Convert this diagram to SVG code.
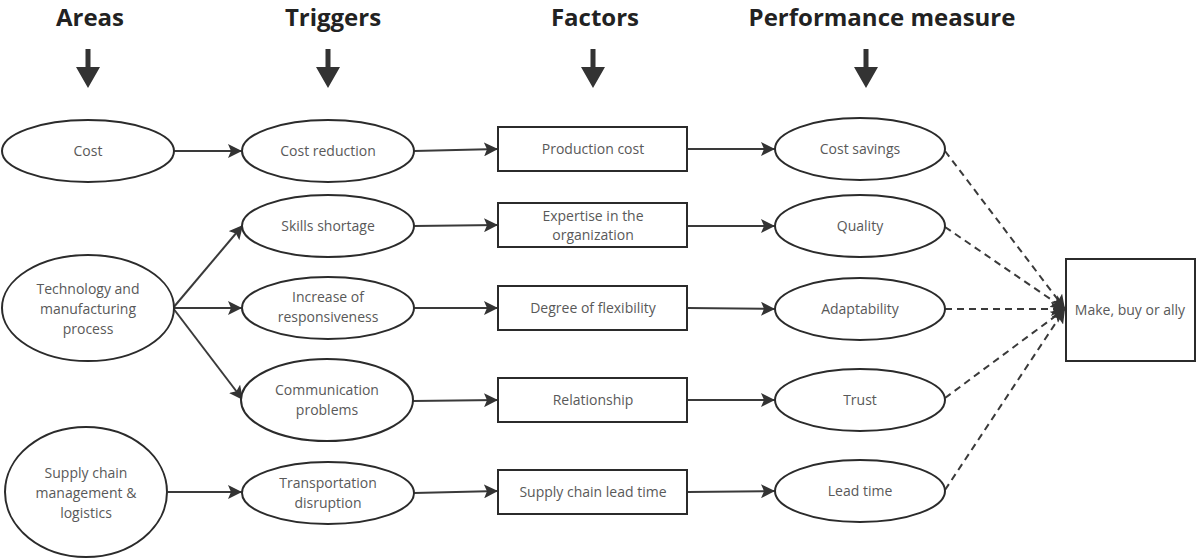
<svg xmlns="http://www.w3.org/2000/svg" width="1197" height="560" viewBox="0 0 1197 560">
  <style>
    .hdr { font-family: "Open Sans", "Liberation Sans", sans-serif; font-weight: 700; font-size: 24px; fill: #222; text-anchor: middle; }
    .node ellipse, .node rect { fill: #fff; stroke: #2b2b2b; stroke-width: 2; }
    .lbl { font-family: "Open Sans", "Liberation Sans", sans-serif; font-size: 14px; fill: #595959; text-anchor: middle; }
    .link { fill: none; stroke: #3a3a3a; stroke-width: 2; marker-end: url(#head); }
    .dash { fill: none; stroke: #3a3a3a; stroke-width: 2; stroke-dasharray: 7 5; marker-end: url(#head); }
    .down { fill: #333; }
  </style>
  <defs>
    <marker id="head" markerUnits="userSpaceOnUse" markerWidth="16" markerHeight="14" refX="14" refY="7" orient="auto">
      <path d="M0,0 L14,7 L0,14 L3,7 z" fill="#333"/>
    </marker>
    <path id="downArrow" d="M-2.5,0 H2.5 V18 H12 L0,39 L-12,18 H-2.5 z"/>
  </defs>

  <!-- column headings -->
  <g id="headings">
    <text class="hdr" x="90" y="26">Areas</text>
    <text class="hdr" x="333" y="26">Triggers</text>
    <text class="hdr" x="595" y="26">Factors</text>
    <text class="hdr" x="882" y="26">Performance measure</text>
    <use href="#downArrow" class="down" x="88" y="49"/>
    <use href="#downArrow" class="down" x="328" y="49"/>
    <use href="#downArrow" class="down" x="593" y="49"/>
    <use href="#downArrow" class="down" x="866" y="49"/>
  </g>

  <!-- connectors -->
  <g id="connectors">
    <line class="link" x1="174" y1="151" x2="242" y2="151"/>
    <line class="link" x1="173" y1="308" x2="243" y2="225"/>
    <line class="link" x1="174" y1="308" x2="242" y2="308"/>
    <line class="link" x1="173" y1="308" x2="243" y2="400"/>
    <line class="link" x1="168" y1="492" x2="242" y2="492"/>

    <line class="link" x1="414" y1="151" x2="498" y2="149"/>
    <line class="link" x1="414" y1="226" x2="498" y2="225"/>
    <line class="link" x1="414" y1="308" x2="498" y2="308"/>
    <line class="link" x1="413" y1="401" x2="498" y2="400"/>
    <line class="link" x1="414" y1="493" x2="498" y2="491"/>

    <line class="link" x1="688" y1="149" x2="775" y2="149"/>
    <line class="link" x1="688" y1="226" x2="775" y2="226"/>
    <line class="link" x1="688" y1="308" x2="775" y2="309"/>
    <line class="link" x1="688" y1="400" x2="775" y2="400"/>
    <line class="link" x1="688" y1="492" x2="775" y2="491"/>

    <line class="dash" x1="945" y1="151" x2="1065" y2="309"/>
    <line class="dash" x1="945" y1="227" x2="1065" y2="309"/>
    <line class="dash" x1="945" y1="309" x2="1065" y2="309"/>
    <line class="dash" x1="945" y1="398" x2="1065" y2="309"/>
    <line class="dash" x1="945" y1="490" x2="1065" y2="309"/>
  </g>

  <!-- areas -->
  <g id="area-cost" class="node">
    <ellipse cx="88" cy="151" rx="86" ry="31"/>
    <text class="lbl" x="88" y="156">Cost</text>
  </g>
  <g id="area-technology" class="node">
    <ellipse cx="88" cy="308" rx="86" ry="53"/>
    <text class="lbl" x="88" y="294">Technology and</text>
    <text class="lbl" x="88" y="314">manufacturing</text>
    <text class="lbl" x="88" y="334">process</text>
  </g>
  <g id="area-supply" class="node">
    <ellipse cx="86" cy="492" rx="81" ry="65"/>
    <text class="lbl" x="86" y="478">Supply chain</text>
    <text class="lbl" x="86" y="498">management &amp;</text>
    <text class="lbl" x="86" y="518">logistics</text>
  </g>

  <!-- triggers -->
  <g id="trigger-cost-reduction" class="node">
    <ellipse cx="328" cy="151" rx="86" ry="31"/>
    <text class="lbl" x="328" y="156">Cost reduction</text>
  </g>
  <g id="trigger-skills" class="node">
    <ellipse cx="328" cy="226" rx="86" ry="31"/>
    <text class="lbl" x="328" y="231">Skills shortage</text>
  </g>
  <g id="trigger-responsiveness" class="node">
    <ellipse cx="328" cy="308" rx="86" ry="31"/>
    <text class="lbl" x="328" y="302">Increase of</text>
    <text class="lbl" x="328" y="322">responsiveness</text>
  </g>
  <g id="trigger-communication" class="node">
    <ellipse cx="327" cy="400" rx="86" ry="41"/>
    <text class="lbl" x="327" y="395">Communication</text>
    <text class="lbl" x="327" y="415">problems</text>
  </g>
  <g id="trigger-transportation" class="node">
    <ellipse cx="328" cy="493" rx="86" ry="31"/>
    <text class="lbl" x="328" y="488">Transportation</text>
    <text class="lbl" x="328" y="508">disruption</text>
  </g>

  <!-- factors -->
  <g id="factor-production-cost" class="node">
    <rect x="498" y="127" width="189" height="44"/>
    <text class="lbl" x="593" y="154">Production cost</text>
  </g>
  <g id="factor-expertise" class="node">
    <rect x="498" y="203" width="189" height="44"/>
    <text class="lbl" x="593" y="221">Expertise in the</text>
    <text class="lbl" x="593" y="240">organization</text>
  </g>
  <g id="factor-flexibility" class="node">
    <rect x="498" y="286" width="189" height="44"/>
    <text class="lbl" x="593" y="313">Degree of flexibility</text>
  </g>
  <g id="factor-relationship" class="node">
    <rect x="498" y="378" width="189" height="44"/>
    <text class="lbl" x="593" y="405">Relationship</text>
  </g>
  <g id="factor-lead-time" class="node">
    <rect x="498" y="470" width="189" height="44"/>
    <text class="lbl" x="593" y="497">Supply chain lead time</text>
  </g>

  <!-- performance measures -->
  <g id="measure-cost-savings" class="node">
    <ellipse cx="860" cy="149" rx="85" ry="31"/>
    <text class="lbl" x="860" y="154">Cost savings</text>
  </g>
  <g id="measure-quality" class="node">
    <ellipse cx="860" cy="226" rx="85" ry="31"/>
    <text class="lbl" x="860" y="231">Quality</text>
  </g>
  <g id="measure-adaptability" class="node">
    <ellipse cx="860" cy="309" rx="85" ry="31"/>
    <text class="lbl" x="860" y="314">Adaptability</text>
  </g>
  <g id="measure-trust" class="node">
    <ellipse cx="860" cy="400" rx="85" ry="31"/>
    <text class="lbl" x="860" y="405">Trust</text>
  </g>
  <g id="measure-lead-time" class="node">
    <ellipse cx="860" cy="491" rx="85" ry="31"/>
    <text class="lbl" x="860" y="496">Lead time</text>
  </g>

  <!-- decision -->
  <g id="decision" class="node">
    <rect x="1066" y="259" width="129" height="102"/>
    <text class="lbl" x="1130" y="315">Make, buy or ally</text>
  </g>
</svg>
